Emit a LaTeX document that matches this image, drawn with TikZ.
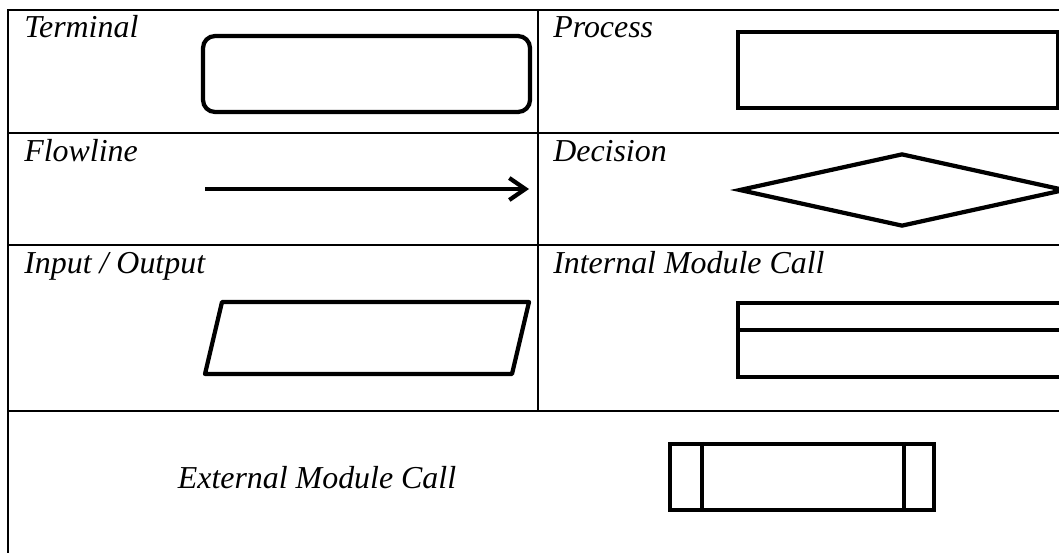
\documentclass[tikz,border=0pt]{standalone}
\usepackage{fontspec}
\setmainfont{Liberation Serif}
\usetikzlibrary{shapes.geometric,arrows.meta}
\tikzset{
  gridline/.style={line width=1.4pt},
  symbol/.style={draw,line width=3pt,inner sep=0pt},
  celltext/.style={anchor=base west,inner sep=0pt,font=\fontsize{22.7}{26}\selectfont\itshape},
}
\begin{document}
\begin{tikzpicture}
\useasboundingbox (0,0) rectangle (26.475,-13.8);
\clip (0,0) rectangle (26.475,-13.8);
% table
\draw[gridline] (27,-0.25) -- (0.2,-0.25) -- (0.2,-14);
\draw[gridline] (13.45,-0.25) -- (13.45,-10.275);
\draw[gridline] (0.2,-3.325) -- (27,-3.325);
\draw[gridline] (0.2,-6.125) -- (27,-6.125);
\draw[gridline] (0.2,-10.275) -- (27,-10.275);

% row 1
\node[celltext] (txtterminal) at (0.6,-0.95) {Terminal};
\node[symbol,rounded corners=3mm,minimum width=8.175cm,minimum height=1.9cm] (terminal) at (9.1625,-1.85) {};
\node[celltext] (txtprocess) at (13.825,-0.95) {Process};
\node[symbol,minimum width=8cm,minimum height=1.9cm] (process) at (22.45,-1.75) {};

% row 2
\node[celltext] (txtflowline) at (0.6,-4.025) {Flowline};
\coordinate (flowstart) at (5.125,-4.725);
\coordinate (flowend) at (13.225,-4.725);
\draw[line width=3pt,-{Straight Barb[length=4mm,width=5.5mm]}] (flowstart) -- (flowend);
\node[celltext] (txtdecision) at (13.825,-4.025) {Decision};
\node[symbol,diamond,minimum width=8.15cm,minimum height=1.825cm] (decision) at (22.55,-4.75) {};

% row 3
\node[celltext] (txtinout) at (0.6,-6.825) {Input / Output};
\coordinate (ioNW) at (5.55,-7.55);
\coordinate (ioNE) at (13.225,-7.55);
\coordinate (ioSE) at (12.8,-9.35);
\coordinate (ioSW) at (5.125,-9.35);
\draw[line width=3pt,line join=round] (ioNW) -- (ioNE) -- (ioSE) -- (ioSW) -- cycle;
\node[celltext] (txtinternal) at (13.825,-6.825) {Internal Module Call};
\node[symbol,minimum width=8.15cm,minimum height=1.85cm] (internal) at (22.525,-8.5) {};
\draw[line width=3pt] ([yshift=-0.725cm]internal.north west) -- ([yshift=-0.725cm]internal.north east);

% row 4
\node[inner sep=0pt,font=\fontsize{22.7}{26}\selectfont\itshape] (txtexternal) at (7.925,-11.95) {External Module Call};
\node[symbol,minimum width=6.6cm,minimum height=1.65cm] (external) at (20.05,-11.925) {};
\draw[line width=3pt] ([xshift=0.85cm]external.north west) -- ([xshift=0.85cm]external.south west);
\draw[line width=3pt] ([xshift=-0.8cm]external.north east) -- ([xshift=-0.8cm]external.south east);
\end{tikzpicture}
\end{document}
